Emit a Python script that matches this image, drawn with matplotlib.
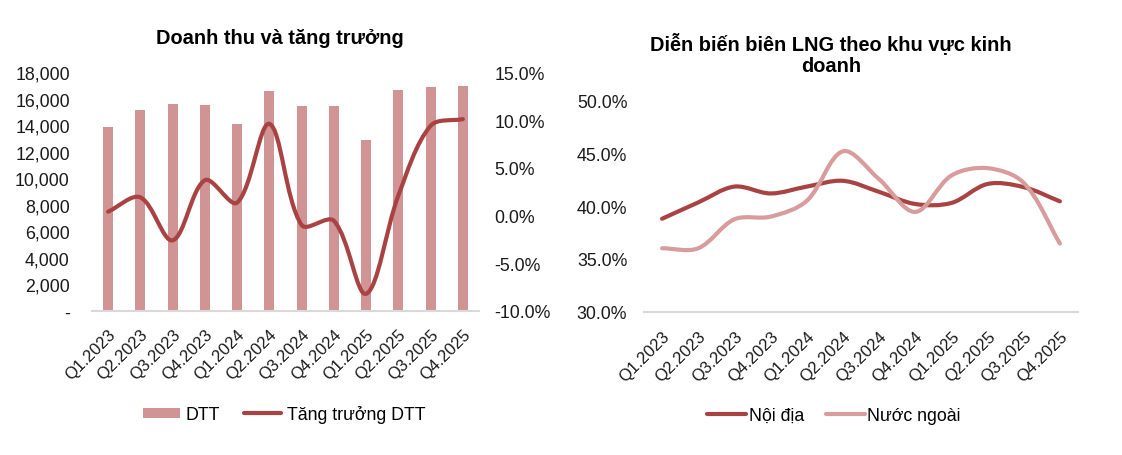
import matplotlib
matplotlib.use("Agg")
import numpy as np
import matplotlib.pyplot as plt
from matplotlib.path import Path
from matplotlib.patches import PathPatch, Patch
from matplotlib.lines import Line2D
from matplotlib.ticker import FuncFormatter, MultipleLocator

plt.rcParams['font.family'] = ['Liberation Sans', 'DejaVu Sans']

quarters = ["Q1.2023", "Q2.2023", "Q3.2023", "Q4.2023", "Q1.2024", "Q2.2024",
            "Q3.2024", "Q4.2024", "Q1.2025", "Q2.2025", "Q3.2025", "Q4.2025"]
revenue = [13900, 15150, 15600, 15500, 14100, 16600, 15450, 15450, 12900, 16650, 16880, 16950]
growth = [0.4, 1.9, -2.6, 3.7, 1.35, 9.6, -1.0, -0.55, -8.2, 2.1, 9.4, 10.1]
margin_domestic = [38.8, 40.35, 41.85, 41.2, 41.85, 42.4, 41.35, 40.2, 40.3, 42.1, 41.8, 40.45]
margin_foreign = [36.0, 36.0, 38.75, 39.0, 40.5, 45.2, 42.55, 39.45, 42.9, 43.6, 42.2, 36.45]

BAR = "#D09494"
DARK = "#A94343"
LIGHT = "#D99C9C"
GRID = "#D9D9D9"
TXT = "#1a1a1a"
FS_Y = 12.8
FS_X = 12.0
FS_LEG = 12.8
FS_T = 14.4


def smooth_patch(ax, xs, ys, color):
    """Excel-like smoothed line: cubic Bezier through the data points,
    control points computed in screen space (length weighted)."""
    P = ax.transData.transform(np.column_stack([xs, ys]))
    n = len(P)
    verts = [P[0]]
    codes = [Path.MOVETO]
    k = 1.0 / 3.0
    for i in range(n - 1):
        p0 = P[i - 1] if i > 0 else P[i]
        p1 = P[i]
        p2 = P[i + 1]
        p3 = P[i + 2] if i + 2 < n else P[i + 1]
        d01 = np.linalg.norm(p1 - p0)
        d12 = np.linalg.norm(p2 - p1)
        d23 = np.linalg.norm(p3 - p2)
        c1 = p1 + (p2 - p0) * k * d12 / (d01 + d12)
        c2 = p2 - (p3 - p1) * k * d12 / (d12 + d23)
        verts += [c1, c2, p2]
        codes += [Path.CURVE4] * 3
    V = ax.transData.inverted().transform(np.array(verts))
    ax.add_patch(PathPatch(Path(V, codes), facecolor="none", edgecolor=color,
                           linewidth=3, capstyle="round", joinstyle="round", zorder=3))


W, H = 1122, 456
fig = plt.figure(figsize=(W / 100, H / 100), dpi=100)


def fx(px):
    return px / W


def fy(py):
    return 1 - py / H


x = list(range(len(quarters)))

# ---------- Left chart ----------
L0, L1, LB, LT = 92, 479, 312, 73.3
ax1 = fig.add_axes([fx(L0), fy(LB), fx(L1 - L0), (LB - LT) / H])
ax1.bar(x, revenue, width=0.31, color=BAR, zorder=2)
ax1.set_xlim(-0.5, len(quarters) - 0.5)
ax1.set_ylim(0, 18000)
ax1.yaxis.set_major_locator(MultipleLocator(2000))
ax1.yaxis.set_major_formatter(FuncFormatter(lambda v, p: "-" if v == 0 else f"{int(v):,}"))
for s in ["top", "right", "left"]:
    ax1.spines[s].set_visible(False)
ax1.spines["bottom"].set_color(GRID)
ax1.spines["bottom"].set_linewidth(1.5)
ax1.tick_params(axis="y", length=0, pad=16, labelsize=FS_Y, labelcolor=TXT)
ax1.tick_params(axis="x", length=0, pad=11, labelsize=FS_X, labelcolor=TXT)
ax1.set_xticks(x)
ax1.set_xticklabels(quarters, rotation=45, ha="right", va="top", rotation_mode="anchor")
ax1.patch.set_alpha(0)

ax1b = ax1.twinx()
ax1b.set_ylim(-10, 15)
ax1b.yaxis.set_major_locator(MultipleLocator(5))
ax1b.yaxis.set_major_formatter(FuncFormatter(lambda v, p: f"{v:.1f}%"))
for s in ["top", "right", "left", "bottom"]:
    ax1b.spines[s].set_visible(False)
ax1b.tick_params(axis="y", length=0, pad=11, labelsize=FS_Y, labelcolor=TXT)
smooth_patch(ax1b, x, growth, DARK)

fig.text(fx(280), fy(39), "Doanh thu và tăng trưởng", ha="center", va="center",
         fontsize=FS_T, fontweight="bold", color="black")

h1 = [Patch(facecolor=BAR, edgecolor="none"),
      Line2D([0], [0], color=DARK, linewidth=3, solid_capstyle="round")]
fig.legend(h1, ["DTT", "Tăng trưởng DTT"], loc="center", bbox_to_anchor=(fx(284), fy(415)),
           ncol=2, frameon=False, fontsize=FS_LEG, handlelength=2.1, handletextpad=0.3,
           columnspacing=1.35, handleheight=0.5)

# ---------- Right chart ----------
R0, R1, RB, RT = 644, 1078, 312.5, 101.7
ax2 = fig.add_axes([fx(R0), fy(RB), fx(R1 - R0), (RB - RT) / H])
ax2.set_xlim(-0.5, len(quarters) - 0.5)
ax2.set_ylim(30, 50)
ax2.yaxis.set_major_locator(MultipleLocator(5))
ax2.yaxis.set_major_formatter(FuncFormatter(lambda v, p: f"{v:.1f}%"))
for s in ["top", "right", "left"]:
    ax2.spines[s].set_visible(False)
ax2.spines["bottom"].set_color(GRID)
ax2.spines["bottom"].set_linewidth(1.5)
ax2.tick_params(axis="y", length=0, pad=12, labelsize=FS_Y, labelcolor=TXT)
ax2.tick_params(axis="x", length=0, pad=12, labelsize=FS_X, labelcolor=TXT)
ax2.set_xticks(x)
ax2.set_xticklabels(quarters, rotation=45, ha="right", va="top", rotation_mode="anchor")
smooth_patch(ax2, x, margin_domestic, DARK)
smooth_patch(ax2, x, margin_foreign, LIGHT)

fig.text(fx(831), fy(54), "Diễn biến biên LNG theo khu vực kinh\ndoanh", ha="center",
         va="center", fontsize=FS_T, fontweight="bold", color="black", linespacing=1.25)

h2 = [Line2D([0], [0], color=DARK, linewidth=3, solid_capstyle="round"),
      Line2D([0], [0], color=LIGHT, linewidth=3, solid_capstyle="round")]
fig.legend(h2, ["Nội địa", "Nước ngoài"], loc="center", bbox_to_anchor=(fx(834), fy(416.5)),
           ncol=2, frameon=False, fontsize=FS_LEG, handlelength=2.2, handletextpad=0.15,
           columnspacing=1.2)

fig.savefig("out.png", dpi=100, facecolor="white")
